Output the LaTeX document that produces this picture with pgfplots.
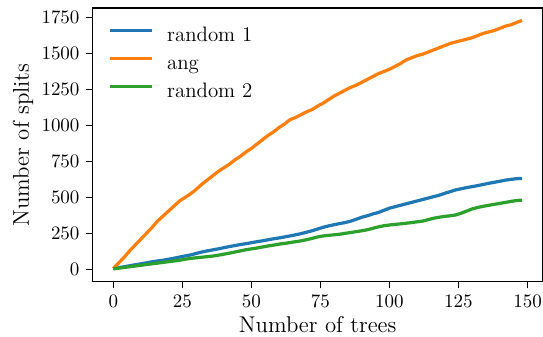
\documentclass[border=0pt]{standalone}
\usepackage{pgfplots}
\pgfplotsset{compat=1.18}
\usetikzlibrary{calc}
\definecolor{tabblue}{HTML}{1F77B4}
\definecolor{taborange}{HTML}{FF7F0E}
\definecolor{tabgreen}{HTML}{2CA02C}
\begin{document}
\begin{tikzpicture}
\begin{axis}[
  scale only axis, width=236.8pt, height=144.2pt,
  xmin=-7.4, xmax=155.4, ymin=-86.5, ymax=1816.5,
  xtick={0,25,50,75,100,125,150},
  ytick={0,250,500,750,1000,1250,1500,1750},
  scaled y ticks=false,
  yticklabel style={/pgf/number format/1000 sep={}},
  tick align=outside, major tick length=3.5pt,
  xtick pos=bottom, ytick pos=left,
  tick style={black, line width=0.6pt},
  axis line style={line width=0.6pt},
  ticklabel style={font=\fontsize{10}{12}\selectfont},
  xlabel={Number of trees}, ylabel={Number of splits},
  label style={font=\fontsize{12}{14}\selectfont},
  xlabel style={yshift=2pt},
  ylabel shift=-2.5pt,
  legend style={at={(0.022,0.953)}, anchor=north west, draw=none, fill=none,
    font=\fontsize{11}{13}\selectfont, row sep=3pt,
    nodes={text height=1.5ex, text depth=0.3ex}},
  legend cell align=left,
  legend image code/.code={\draw[#1] (0pt,0.7ex) -- (22pt,0.7ex); \path (27pt,0.7ex);},
  every axis plot/.append style={line width=1.7pt},
]
\addplot[tabblue, no marks] table {
x y
0 5
2 12
4 18
6 25
8 32
10 38
12 45
14 52
16 58
18 63
20 70
22 77
24 85
26 93
28 100
30 110
32 120
34 128
36 135
38 142
40 150
42 158
44 165
46 172
48 178
50 185
52 192
54 198
56 205
58 212
60 218
62 225
64 232
66 240
68 248
70 258
72 268
74 280
76 292
78 302
80 310
82 318
84 325
86 335
88 348
90 362
92 372
94 385
96 395
98 410
100 425
102 435
104 445
106 455
108 465
110 475
112 485
114 495
116 505
118 515
120 528
122 540
124 552
126 560
128 568
130 575
132 582
134 590
136 598
138 605
140 612
142 620
144 625
146 630
148 632
};
\addlegendentry{random 1}
\addplot[taborange, no marks] table {
x y
0 5
2 45
4 85
6 130
8 170
10 210
12 250
14 290
16 335
18 370
20 405
22 440
24 475
26 500
28 525
30 555
32 590
34 620
36 650
38 680
40 705
42 730
44 760
46 785
48 815
50 840
52 870
54 900
56 930
58 955
60 985
62 1010
64 1040
66 1055
68 1075
70 1095
72 1110
74 1135
76 1155
78 1180
80 1205
82 1225
84 1245
86 1265
88 1280
90 1300
92 1320
94 1340
96 1360
98 1375
100 1390
102 1410
104 1430
106 1455
108 1470
110 1485
112 1495
114 1510
116 1525
118 1540
120 1555
122 1570
124 1580
126 1590
128 1600
130 1610
132 1625
134 1640
136 1650
138 1660
140 1675
142 1690
144 1700
146 1715
148 1730
};
\addlegendentry{ang}
\addplot[tabgreen, no marks] table {
x y
0 3
2 8
4 13
6 18
8 23
10 28
12 33
14 38
16 43
18 48
20 53
22 58
24 63
26 70
28 76
30 80
32 84
34 88
36 92
38 98
40 105
42 112
44 120
46 128
48 136
50 142
52 148
54 155
56 162
58 168
60 175
62 180
64 186
66 192
68 198
70 206
72 215
74 225
76 232
78 236
80 240
82 244
84 250
86 256
88 262
90 268
92 275
94 285
96 295
98 303
100 308
102 312
104 316
106 320
108 325
110 330
112 335
114 345
116 355
118 362
120 368
122 372
124 378
126 390
128 405
130 420
132 430
134 438
136 445
138 452
140 458
142 465
144 472
146 478
148 481
};
\addlegendentry{random 2}
\end{axis}
\pgfresetboundingbox
\path ($(current axis.south west)+(-48.9pt,-28.9pt)$) rectangle ($(current axis.north east)+(0.3pt,4.2pt)$);
\end{tikzpicture}
\end{document}
